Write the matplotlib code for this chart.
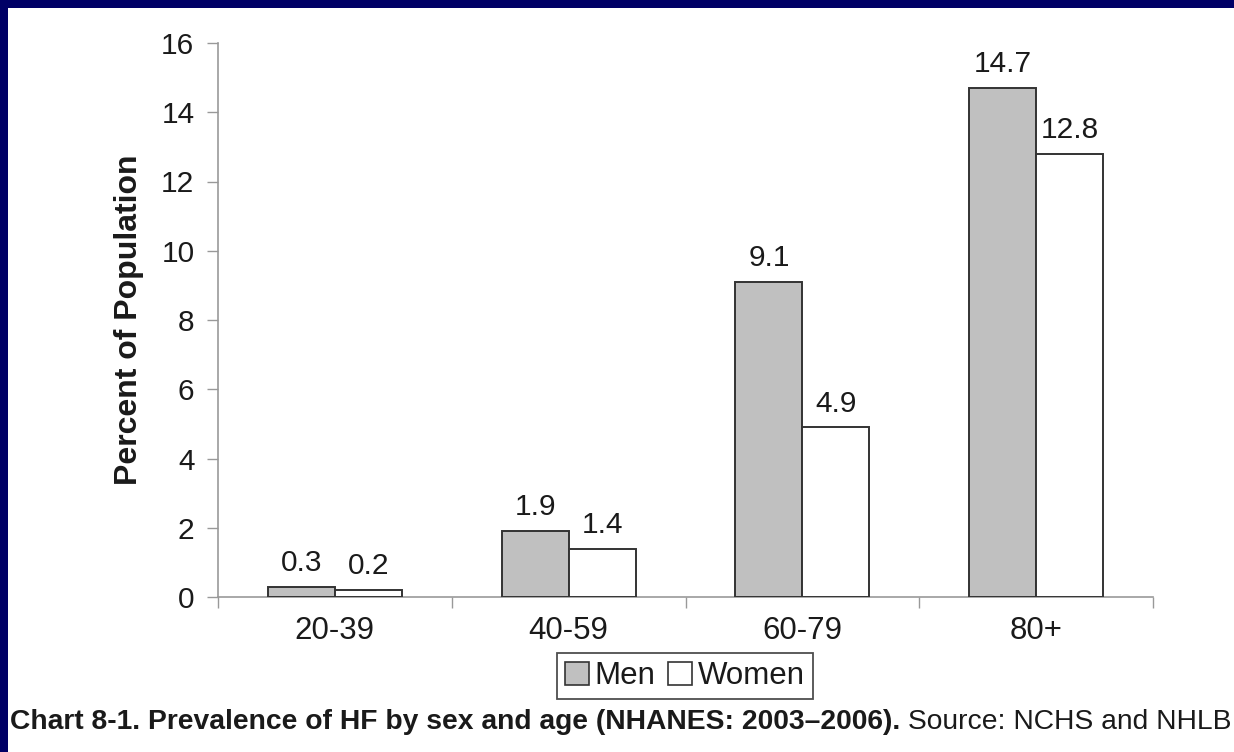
import matplotlib
matplotlib.use("Agg")
import matplotlib.pyplot as plt
import numpy as np
from matplotlib.patches import Rectangle, Patch

plt.rcParams['font.family'] = ['Liberation Sans', 'DejaVu Sans']

age_groups = ["20-39", "40-59", "60-79", "80+"]
men = [0.3, 1.9, 9.1, 14.7]
women = [0.2, 1.4, 4.9, 12.8]
y_ticks = [0, 2, 4, 6, 8, 10, 12, 14, 16]
series_names = ["Men", "Women"]

W, H = 1234, 752
fig = plt.figure(figsize=(W / 100, H / 100), dpi=100)
fig.patch.set_facecolor("#000066")

# white page panel inside the navy frame
fig.patches.append(Rectangle((8 / W, 0), 1 - 8 / W, 1 - 8 / H,
                             transform=fig.transFigure, facecolor="white",
                             edgecolor="none", zorder=-5))

ax = fig.add_axes([218 / W, 155 / H, (1153 - 218) / W, (597 - 43) / H])
ax.set_facecolor("none")
ax.set_zorder(2)

x = np.arange(len(age_groups))
bw = 0.2866
edge = "#333333"
txt = "#1a1a1a"
b1 = ax.bar(x - bw / 2, men, bw, color="#c0c0c0", edgecolor=edge, linewidth=1.4, zorder=3)
b2 = ax.bar(x + bw / 2, women, bw, color="white", edgecolor=edge, linewidth=1.4, zorder=3)

for bars, vals in ((b1, men), (b2, women)):
    for rect, v in zip(bars, vals):
        ax.annotate(f"{v:.1f}", (rect.get_x() + rect.get_width() / 2, v),
                    xytext=(0, 7), textcoords="offset points",
                    ha="center", va="bottom", fontsize=21.5, color=txt)

ax.set_xlim(-0.5, len(age_groups) - 0.5)
ax.set_ylim(0, 16)
ax.set_yticks(y_ticks)
ax.set_yticklabels([str(t) for t in y_ticks])

# category labels centred under groups, tick marks at group boundaries
ax.set_xticks(np.arange(-0.5, len(age_groups)), minor=False)
ax.set_xticklabels([""] * (len(age_groups) + 1))
ax.set_xticks(x, minor=True)
ax.set_xticklabels(age_groups, minor=True)
ax.tick_params(axis="x", which="minor", length=0, pad=14, labelsize=22.5, labelcolor=txt)
ax.tick_params(axis="x", which="major", length=8, width=1, color="#999999", direction="out")
ax.tick_params(axis="y", length=8, width=1, color="#999999", direction="out",
               pad=9, labelsize=21.5, labelcolor=txt)

for s in ("top", "right"):
    ax.spines[s].set_visible(False)
for s in ("left", "bottom"):
    ax.spines[s].set_color("#999999")
    ax.spines[s].set_linewidth(1.2)

ax.set_ylabel("Percent of Population", fontsize=23, fontweight="bold",
              color=txt, labelpad=12)

handles = [Patch(facecolor="#c0c0c0", edgecolor=edge, linewidth=1.2),
           Patch(facecolor="white", edgecolor=edge, linewidth=1.2)]
leg = fig.legend(handles, series_names, loc="center", ncol=2,
                 bbox_to_anchor=(685 / W, 1 - 676 / H), fontsize=22.5,
                 frameon=True, fancybox=False, handlelength=0.75,
                 handleheight=0.75, handletextpad=0.2, columnspacing=0.4,
                 borderpad=0.25, borderaxespad=0)
leg.get_frame().set_edgecolor("#222222")
leg.get_frame().set_linewidth(1.3)
leg.set_zorder(3)
for t in leg.get_texts():
    t.set_color(txt)

# caption: bold lead followed by regular source text
fig.canvas.draw()
renderer = fig.canvas.get_renderer()
cap_y = 1 - 722 / H
t1 = fig.text(10 / W, cap_y, "Chart 8-1. Prevalence of HF by sex and age (NHANES: 2003\u20132006).",
              fontsize=20.3, fontweight="bold", color=txt, va="center", ha="left")
bb = t1.get_window_extent(renderer=renderer)
fig.text(bb.x1 / W, cap_y, " Source: NCHS and NHLBI.", fontsize=20.3,
         color=txt, va="center", ha="left")

fig.savefig("out.png", dpi=100, facecolor=fig.get_facecolor())
